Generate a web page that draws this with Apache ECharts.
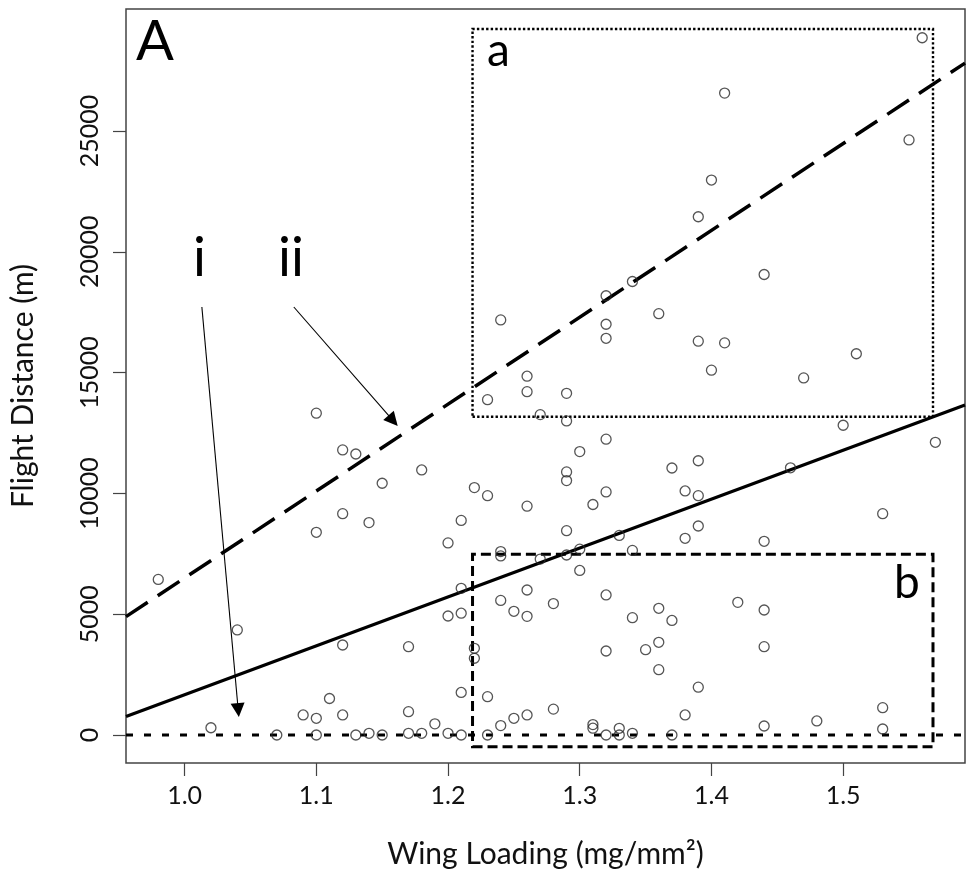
<!DOCTYPE html>
<html lang="en">
<head>
	<meta charset="UTF-8">
	<title>Flight distance vs wing loading</title>
	<script src="https://cdn.jsdelivr.net/npm/echarts@6/dist/echarts.min.js"></script>
	<style>
		html,body{margin:0;padding:0;background:#fff;}
		#chart{width:967px;height:881px;}
	</style>
</head>
<body>
	<div id="chart"></div>
	<script>
	// wing loading (mg/mm2) and flight distance (m)
	var wingLoading = [
		1.56,1.41,1.55,1.40,1.39,1.44,1.34,1.32,1.24,1.36,
		1.32,1.32,1.39,1.41,1.51,1.40,1.47,1.26,1.26,1.29,
		1.23,1.27,1.29,1.50,1.57,1.32,1.30,1.22,1.23,1.26,
		1.31,1.29,1.29,1.32,1.37,1.39,1.38,1.39,1.46,1.53,
		1.10,1.12,1.13,1.18,1.15,1.12,1.14,1.10,1.21,1.20,
		0.98,1.21,1.20,1.21,1.04,1.12,1.17,1.22,1.22,1.21,
		1.11,1.09,1.10,1.12,1.17,1.19,1.02,1.07,1.10,1.13,
		1.14,1.15,1.17,1.18,1.20,1.21,1.29,1.33,1.38,1.39,
		1.44,1.24,1.24,1.27,1.29,1.30,1.34,1.30,1.26,1.24,
		1.25,1.26,1.28,1.32,1.34,1.36,1.37,1.42,1.44,1.32,
		1.35,1.36,1.36,1.39,1.44,1.23,1.28,1.26,1.25,1.24,
		1.38,1.31,1.31,1.33,1.34,1.32,1.33,1.37,1.23,1.44,
		1.48,1.53,1.53
	];
	var flightDist = [
		28860,26570,24630,22970,21450,19060,18770,18180,17180,17440,
		17000,16420,16300,16230,15780,15100,14780,14850,14210,14140,
		13880,13260,13000,12820,12115,12245,11730,10240,9905,9470,
		9540,10890,10530,10060,11050,11350,10100,9905,11060,9160,
		13320,11800,11630,10970,10420,9160,8790,8390,8880,7950,
		6440,6070,4925,5040,4350,3725,3655,3588,3175,1760,
		1510,828,691,828,964,460,300,0,0,0,
		70,0,70,70,70,0,8456,8260,8141,8650,
		8017,7590,7410,7280,7450,7690,7640,6810,6000,5570,
		5120,4910,5440,5795,4855,5244,4740,5490,5174,3477,
		3530,3837,2703,1980,3655,1585,1070,828,691,390,
		828,430,280,277,70,0,0,0,0,372,
		580,1131,248
	];

	// fitted lines, end points read at the plot edges
	var dashedFit = [[0.9555, 4900], [1.5925, 27810]];
	var solidFit = [[0.9555, 760], [1.5925, 13660]];
	var zeroFit = [[0.9555, 0], [1.5925, 0]];

	// boxes a and b: [x1, y1, x2, y2]
	var boxA = [1.2186, 13175, 1.5682, 29220];
	var boxB = [1.2186, -485, 1.5682, 7480];

	// arrows from labels i and ii: [x1, y1, x2, y2]
	var arrowI = [1.0131, 17715, 1.0407, 1034];
	var arrowII = [1.0829, 17715, 1.1583, 13008];

	var xTicks = [1.0, 1.1, 1.2, 1.3, 1.4, 1.5];
	var yTicks = [0, 5000, 10000, 15000, 20000, 25000];

	var points = [];
	for (var i = 0; i < wingLoading.length; i++) {
		points.push([wingLoading[i], flightDist[i]]);
	}

	var font = 'Lato';
	var myChart = echarts.init(document.getElementById('chart'));

	function arrowLine(a) {
		return [{coord: [a[0], a[1]]}, {coord: [a[2], a[3]]}];
	}

	var option = {
		backgroundColor: '#fff',
		animation: false,
		grid: {
			left: 125, right: 2, top: 9, bottom: 118,
			show: true, borderColor: '#444', borderWidth: 1.5,
			backgroundColor: 'transparent'
		},
		xAxis: {
			type: 'value',
			min: 0.9555, max: 1.5925,
			name: 'Wing Loading (mg/mm²)',
			nameLocation: 'middle',
			nameGap: 76,
			nameTextStyle: {fontFamily: font, fontSize: 30, color: '#111'},
			axisLine: {show: false, onZero: false},
			axisTick: {show: true, length: 13, inside: false, customValues: xTicks,
				lineStyle: {color: '#444', width: 1.2}},
			axisLabel: {customValues: xTicks, margin: 20, fontFamily: font, fontSize: 25, color: '#111',
				formatter: function (v) { return v.toFixed(1); }},
			splitLine: {show: false}
		},
		yAxis: {
			type: 'value',
			min: -1160, max: 30050,
			name: 'Flight Distance (m)',
			nameLocation: 'middle',
			nameGap: 88,
			nameTextStyle: {fontFamily: font, fontSize: 30, color: '#111'},
			axisLine: {show: false, onZero: false},
			axisTick: {show: true, length: 13, customValues: yTicks,
				lineStyle: {color: '#444', width: 1.2}},
			axisLabel: {customValues: yTicks, rotate: 90, margin: 24, fontFamily: font, fontSize: 25, color: '#111',
				formatter: function (v) { return String(v); }},
			splitLine: {show: false}
		},
		series: [
			{
				name: 'fit',
				type: 'line',
				data: solidFit,
				symbol: 'none',
				lineStyle: {color: '#000', width: 3.2},
				silent: true,
				z: 3
			},
			{
				name: 'fit ii',
				type: 'line',
				data: dashedFit,
				symbol: 'none',
				lineStyle: {color: '#000', width: 3.5, type: [26, 12]},
				silent: true,
				z: 3
			},
			{
				name: 'fit i',
				type: 'line',
				data: zeroFit,
				symbol: 'none',
				lineStyle: {color: '#000', width: 3.2, type: [7, 11]},
				silent: true,
				z: 3
			},
			{
				name: 'birds',
				type: 'scatter',
				data: points,
				symbol: 'circle',
				symbolSize: 10,
				itemStyle: {color: 'rgba(255,255,255,0)', borderColor: '#2a2a2a', borderWidth: 1.3},
				silent: true,
				z: 4,
				markArea: {
					silent: true,
					label: {show: false},
					data: [
						[{coord: [boxA[0], boxA[1]], itemStyle: {color: 'rgba(0,0,0,0)', borderColor: '#000', borderWidth: 2.4, borderType: [2.4, 2.2]}},
						 {coord: [boxA[2], boxA[3]]}],
						[{coord: [boxB[0], boxB[1]], itemStyle: {color: 'rgba(0,0,0,0)', borderColor: '#000', borderWidth: 3, borderType: [10, 5]}},
						 {coord: [boxB[2], boxB[3]]}]
					]
				},
				markLine: {
					silent: true,
					symbol: ['none', 'triangle'],
					symbolSize: 14,
					label: {show: false},
					lineStyle: {color: '#000', width: 1.1, type: 'solid'},
					itemStyle: {color: '#000'},
					data: [arrowLine(arrowI), arrowLine(arrowII)]
				}
			}
		],
		graphic: [
			{type: 'text', left: 136, top: 14, style: {text: 'A', fontFamily: font, fontSize: 56, fill: '#000'}},
			{type: 'text', left: 487, top: 28, style: {text: 'a', fontFamily: font, fontSize: 46, fill: '#000'}},
			{type: 'text', left: 894, top: 560, style: {text: 'b', fontFamily: font, fontSize: 46, fill: '#000'}},
			{type: 'text', left: 193, top: 232, style: {text: 'i', fontFamily: font, fontSize: 54, fill: '#000'}},
			{type: 'text', left: 278, top: 232, style: {text: 'ii', fontFamily: font, fontSize: 54, fill: '#000'}}
		]
	};
	myChart.setOption(option);
	</script>
</body>
</html>
